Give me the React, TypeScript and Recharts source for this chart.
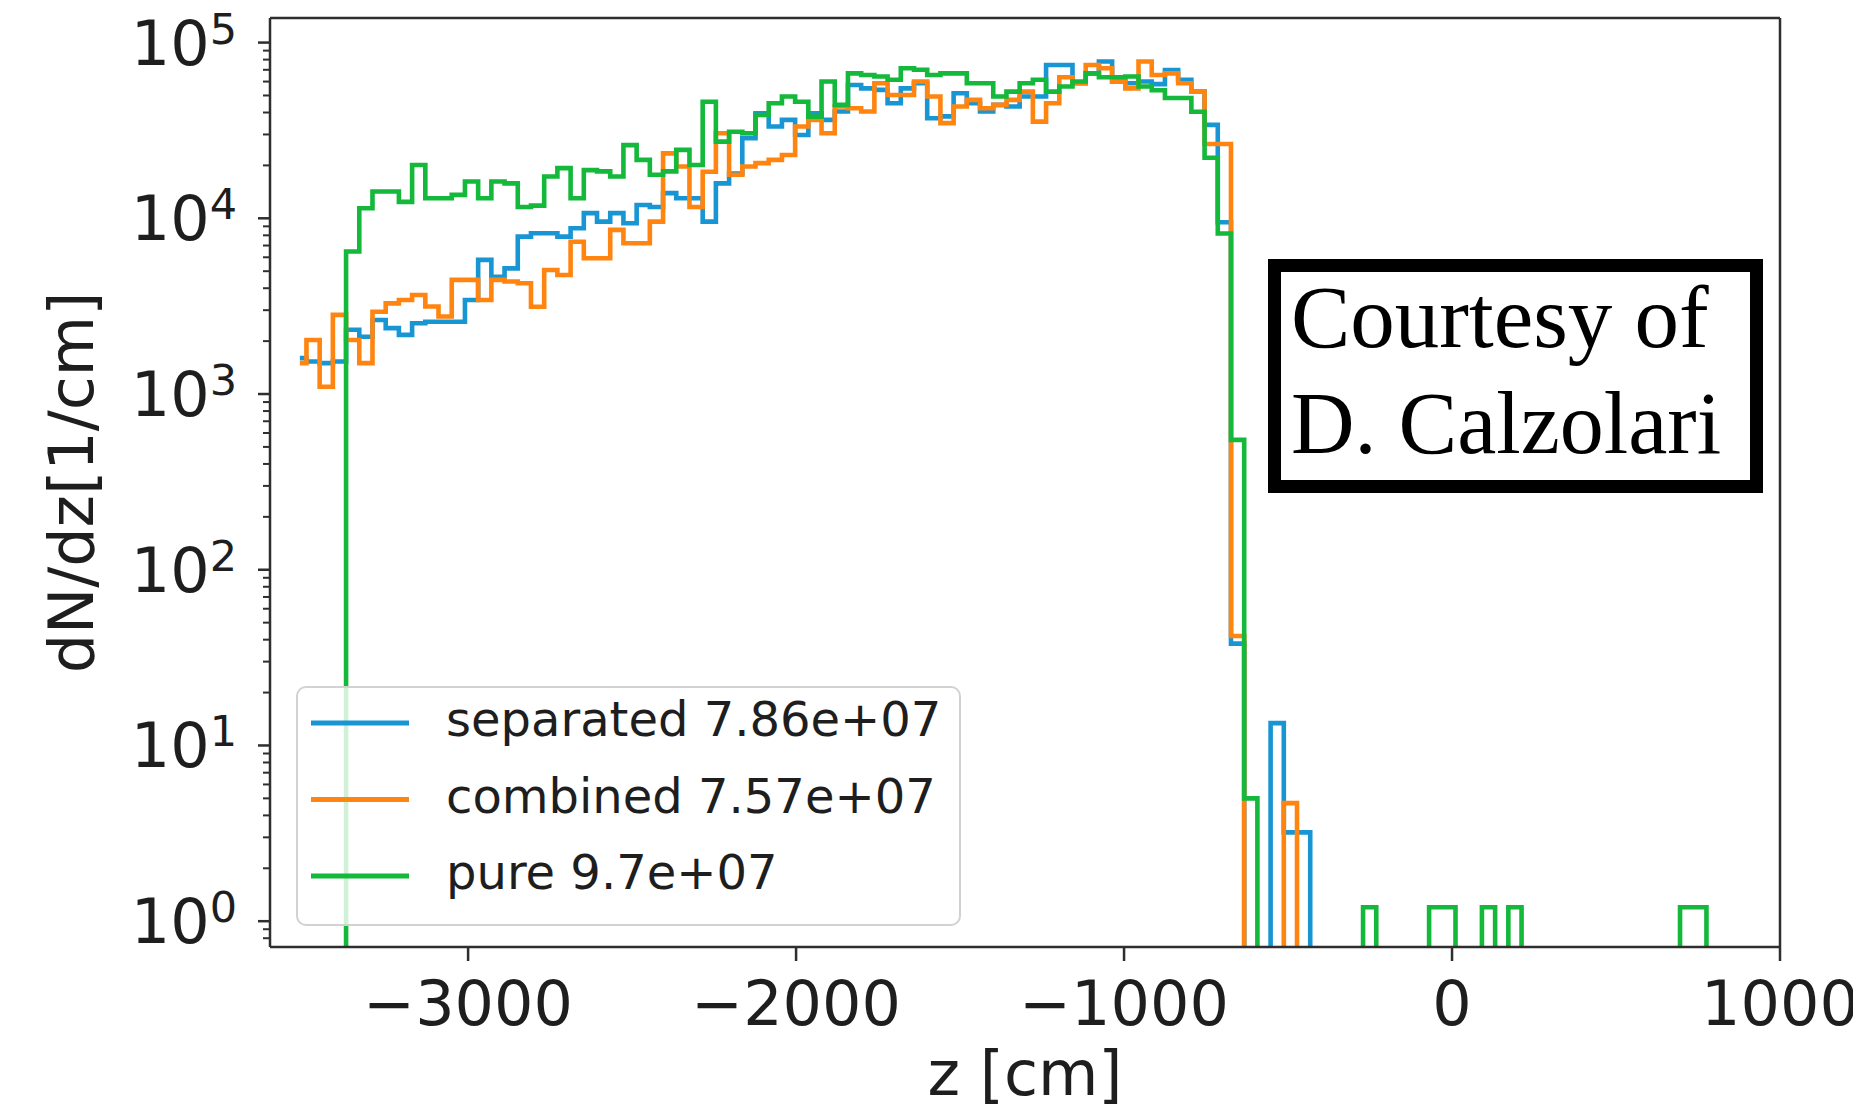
import React from 'react';
import { LineChart, Line, XAxis, YAxis, ReferenceLine } from 'recharts';

// Histogram bins: centre of first bin and bin width in cm
const BIN_START = -3513;
const BIN_WIDTH = 40.27;

// dN/dz per bin (0 = empty bin)
const separated = [
  1600, 1530, 1500, 1530, 2320, 2120, 2640, 2370, 2170, 2530,
  2580, 2580, 2580, 3430, 5800, 4650, 5190, 7870, 8220, 8220,
  7870, 8770, 10700, 9580, 10700, 9370, 11900, 11600, 13900, 13000,
  13000, 9580, 15800, 18000, 28600, 39600, 33300, 36300, 29800, 39600,
  36300, 40500, 57400, 54900, 53800, 45200, 54900, 58700, 37100, 38000,
  51500, 45200, 40500, 44200, 43300, 49300, 49300, 74600, 74600, 58700,
  66800, 78000, 60000, 58700, 60000, 58000, 69800, 61400, 52600, 34000,
  9500, 38, 0, 0, 13.4, 3.2, 3.2, 0, 0, 0,
  0, 0, 0, 0, 0, 0, 0, 0, 0, 0,
  0, 0, 0, 0, 0, 0, 0, 0, 0, 0,
  0, 0, 0, 0, 0, 0, 0, 0,
];

const combined = [
  1500, 2030, 1100, 2820, 2030, 1500, 2940, 3280, 3430, 3660,
  3150, 2760, 4460, 4460, 3430, 4460, 4370, 4270, 3140, 5080,
  4760, 7360, 5920, 5920, 8590, 7210, 7210, 9580, 23400, 19700,
  11600, 18400, 30500, 17700, 19700, 20600, 21500, 22900, 33300, 36300,
  30500, 43300, 42300, 40500, 58700, 50300, 50300, 60000, 49300, 34800,
  43300, 47200, 42300, 44200, 47200, 52600, 35500, 45200, 63500, 58700,
  74600, 71500, 60000, 54900, 78000, 65400, 66800, 58700, 52600, 26500,
  26500, 42, 0, 0, 0, 4.7, 0, 0, 0, 0,
  0, 0, 0, 0, 0, 0, 0, 0, 0, 0,
  0, 0, 0, 0, 0, 0, 0, 0, 0, 0,
  0, 0, 0, 0, 0, 0, 0, 0,
];

const pure = [
  0, 0, 0, 0, 6470, 11400, 14200, 14200, 12400, 20100,
  13000, 13000, 13600, 16200, 13000, 16200, 15800, 11600, 11800, 17300,
  19300, 13000, 18800, 18500, 17300, 26100, 21500, 17700, 18500, 24500,
  20100, 46100, 27300, 31100, 30500, 38700, 45200, 49300, 46100, 37900,
  60000, 44200, 66800, 65400, 64100, 61400, 71500, 70000, 65400, 66800,
  66800, 58700, 58700, 49300, 52600, 58700, 61400, 52600, 56200, 60000,
  66800, 63500, 63500, 64100, 56200, 53500, 48400, 48400, 40400, 22100,
  8200, 548, 5.0, 0, 0, 0, 0, 0, 0, 0,
  0, 1.2, 0, 0, 0, 0, 1.2, 1.2, 0, 0,
  1.2, 0, 1.2, 0, 0, 0, 0, 0, 0, 0,
  0, 0, 0, 0, 0, 1.2, 1.2, 0,
];

const SERIES = [
  { key: 'separated', label: 'separated 7.86e+07', color: '#1895d3' },
  { key: 'combined', label: 'combined 7.57e+07', color: '#ff8510' },
  { key: 'pure', label: 'pure 9.7e+07', color: '#14b83a' },
];

const X_TICKS = [-3000, -2000, -1000, 0, 1000];
const Y_MAJOR = [1, 10, 100, 1000, 10000, 100000];
const X_DOMAIN = [-3604, 1000];
const Y_DOMAIN = [0.713, 138000];

const Y_MINOR: number[] = [];
for (let e = -1; e <= 4; e++) {
  for (let m = 2; m <= 9; m++) {
    const v = m * Math.pow(10, e);
    if (v > Y_DOMAIN[0] && v < Y_DOMAIN[1]) Y_MINOR.push(v);
  }
}
const Y_TICKS = [...Y_MAJOR, ...Y_MINOR].sort((a, b) => a - b);

const LOG_FLOOR = 1e-3; // empty bins drawn below the axis (clipped)
const data = separated.map((_, i) => ({
  z: BIN_START + i * BIN_WIDTH,
  separated: separated[i] > 0 ? separated[i] : LOG_FLOOR,
  combined: combined[i] > 0 ? combined[i] : LOG_FLOOR,
  pure: pure[i] > 0 ? pure[i] : LOG_FLOOR,
}));

const AXIS = '#2e2e2e';
const TEXT = '#1e1e1e';
const SANS = 'DejaVu Sans, sans-serif';

const XTick = (props: any) => {
  const { x, y, payload } = props;
  const v = payload.value as number;
  const label = v < 0 ? '\u2212' + Math.abs(v) : String(v);
  return (
    <g>
      <line x1={x} x2={x} y1={y} y2={y + 14} stroke={AXIS} strokeWidth={2.5} />
      <text x={x} y={y + 78} textAnchor="middle" fontFamily={SANS} fontSize={62} fill={TEXT}>
        {label}
      </text>
    </g>
  );
};

const YTick = (props: any) => {
  const { x, y, payload } = props;
  const v = payload.value as number;
  const lg = Math.log10(v);
  const exp = Math.round(lg);
  const major = Math.abs(lg - exp) < 1e-6;
  return (
    <g>
      <line x1={x - (major ? 12 : 7)} x2={x} y1={y} y2={y} stroke={AXIS} strokeWidth={major ? 2.5 : 2} />
      {major && (
        <text x={x - 33} y={y + 22} textAnchor="end" fontFamily={SANS} fontSize={62} fill={TEXT}>
          10
          <tspan dy={-21} fontSize={43}>
            {exp}
          </tspan>
        </text>
      )}
    </g>
  );
};

const YLabel = (props: any) => {
  const vb = props.viewBox || {};
  const cx = (vb.x ?? 62) + 1;
  const cy = (vb.y ?? 10) + (vb.height ?? 929) / 2;
  return (
    <text
      x={cx}
      y={cy}
      transform={`rotate(-90 ${cx} ${cy})`}
      textAnchor="middle"
      dominantBaseline="central"
      fontFamily={SANS}
      fontSize={62}
      fill={TEXT}
    >
      dN/dz[1/cm]
    </text>
  );
};

const XLabel = (props: any) => {
  const vb = props.viewBox || {};
  const cx = (vb.x ?? 262) + (vb.width ?? 1510) / 2;
  const cy = (vb.y ?? 939) + 126;
  return (
    <text x={cx} y={cy} textAnchor="middle" dominantBaseline="central" fontFamily={SANS} fontSize={62} fill={TEXT}>
      z [cm]
    </text>
  );
};

const W = 1850;
const H = 1100;

export default function App() {
  return (
    <div style={{ position: 'relative', width: W, height: H }}>
      <LineChart width={W} height={H} data={data} margin={{ top: 10, right: 78, bottom: 11, left: 62 }}>
        <XAxis
          dataKey="z"
          type="number"
          domain={X_DOMAIN}
          allowDataOverflow
          ticks={X_TICKS}
          interval={0}
          height={150}
          tickSize={0}
          tickMargin={0}
          tickLine={false}
          tick={<XTick />}
          axisLine={{ stroke: AXIS, strokeWidth: 2.5 }}
          label={<XLabel />}
        />
        <YAxis
          scale="log"
          type="number"
          domain={Y_DOMAIN}
          allowDataOverflow
          ticks={Y_TICKS}
          interval={0}
          width={200}
          tickSize={0}
          tickMargin={0}
          tickLine={false}
          tick={<YTick />}
          axisLine={{ stroke: AXIS, strokeWidth: 2.5 }}
          label={<YLabel />}
        />
        {SERIES.map((s) => (
          <Line
            key={s.key}
            dataKey={s.key}
            name={s.label}
            type="step"
            stroke={s.color}
            strokeWidth={4.6}
            dot={false}
            activeDot={false}
            isAnimationActive={false}
          />
        ))}
        <ReferenceLine y={Y_DOMAIN[1]} stroke={AXIS} strokeWidth={2.5} />
        <ReferenceLine x={X_DOMAIN[1]} stroke={AXIS} strokeWidth={2.5} />
      </LineChart>
      <svg
        width={W}
        height={H}
        style={{ position: 'absolute', left: 0, top: 0, pointerEvents: 'none' }}
      >
        <rect x={289} y={679} width={663} height={238} rx={9} fill="#ffffff" fillOpacity={0.8} stroke="#d2d2d2" strokeWidth={2} />
        {SERIES.map((s, i) => {
          const cy = 715 + i * 76.5;
          return (
            <g key={s.key}>
              <line x1={303} x2={401} y1={cy} y2={cy} stroke={s.color} strokeWidth={5} />
              <text x={438} y={cy + 13.4} fontFamily={SANS} fontSize={48} fill={TEXT}>
                {s.label}
              </text>
            </g>
          );
        })}
        <rect x={1266.5} y={257.5} width={482} height={221} fill="#ffffff" stroke="#000000" strokeWidth={13} />
        <text x={1283} y={338.6} fontFamily="Liberation Serif, serif" fontSize={89} fill="#000000">
          Courtesy of
        </text>
        <text x={1283} y={445} fontFamily="Liberation Serif, serif" fontSize={88} fill="#000000">
          D. Calzolari
        </text>
      </svg>
    </div>
  );
}
